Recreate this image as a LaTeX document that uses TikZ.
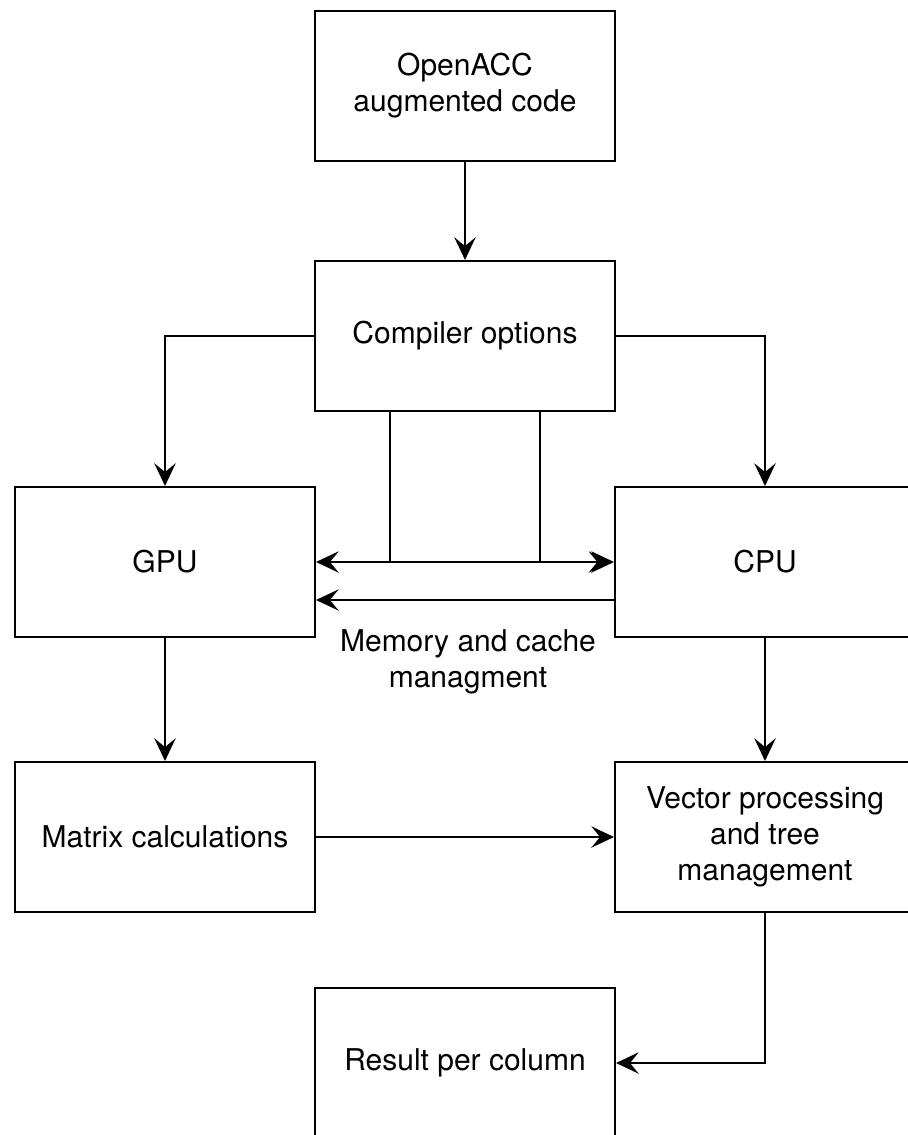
\documentclass[tikz,border=0pt]{standalone}
\usepackage{fontspec}
\setmainfont{TeX Gyre Heros}
\usetikzlibrary{arrows.meta}
\begin{document}
\begin{tikzpicture}[x=0.75pt,y=-0.75pt,
  box/.style={draw,line width=1.5pt,minimum width=225pt,minimum height=112.5pt,inner sep=0pt,align=center,
    font=\fontsize{22.5pt}{27pt}\selectfont},
  lbl/.style={align=center,font=\fontsize{22.5pt}{27pt}\selectfont},
  arr/.style={line width=1.5pt,-{Stealth[length=17pt,width=16pt,inset=6.5pt]}}]
\useasboundingbox (0,0) rectangle (907,1135);
\node[box] (oa) at (465,86) {OpenACC\\augmented code};
\node[box] (co) at (465,336) {Compiler options};
\node[box] (gpu) at (165,562) {GPU};
\node[box] (cpu) at (765,562) {CPU};
\node[box] (mat) at (165,837) {Matrix calculations};
\node[box] (vec) at (765,837) {Vector processing\\and tree\\management};
\node[box] (res) at (465,1063) {Result per column};
\node[lbl] (mem) at (468,662) {Memory and cache\\managment};
\draw[arr] (oa) -- (co);
\draw[arr] (co.west) -| (gpu.north);
\draw[arr] (co.east) -| (cpu.north);
\draw[arr] ([xshift=-56.25pt]co.south) |- ([xshift=-2pt]cpu.west);
\draw[arr] ([xshift=56.25pt]co.south) |- (gpu.east);
\draw[arr] ([xshift=56.25pt]co.south) |- (cpu.west);
\draw[arr] ([yshift=-28.5pt]cpu.west) -- ([yshift=-28.5pt]gpu.east);
\draw[arr] (gpu) -- (mat);
\draw[arr] (cpu) -- (vec);
\draw[arr] (mat) -- (vec);
\draw[arr] (vec.south) |- (res.east);
\end{tikzpicture}
\end{document}
